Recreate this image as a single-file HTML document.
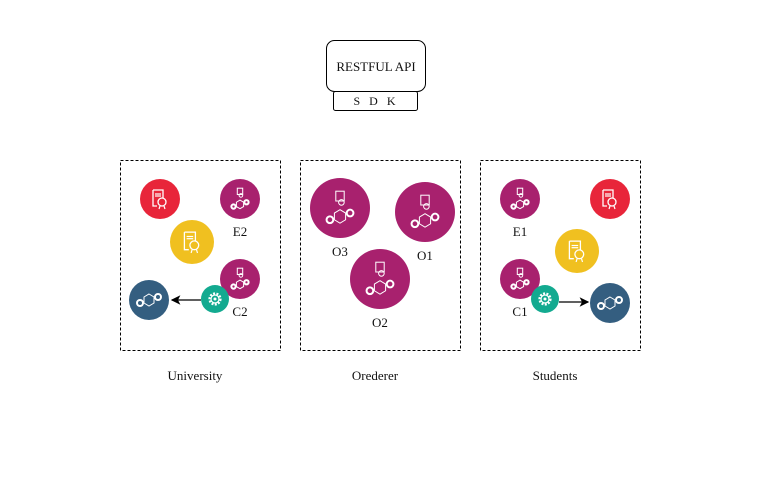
<!DOCTYPE html>
<html><head><meta charset="utf-8"><style>
html,body{margin:0;padding:0;background:#fff;}
svg{display:block;}
text{font-family:"Liberation Serif",serif;fill:#111;}
</style></head><body>
<svg id="d" width="771" height="481" viewBox="0 0 771 481" xmlns="http://www.w3.org/2000/svg">
<defs><marker id="ah" markerWidth="8" markerHeight="8" refX="7" refY="4" orient="auto"><path d="M0,0 L8,4 L0,8 L2,4 z" fill="#000"/></marker></defs>
<g>
<rect x="326.5" y="40.5" width="99" height="51" rx="8" fill="#fff" stroke="#000"/>
<text x="376" y="71" text-anchor="middle" font-size="13">RESTFUL API</text></g>
<g>
<rect x="333.5" y="91.5" width="84" height="19" rx="2" fill="#fff" stroke="#000"/>
<text x="376" y="105" text-anchor="middle" font-size="12" letter-spacing="3">S D K</text></g>
</svg>
<script>
const groupNames=["University","Orederer","Students"];
const groupX=[120,300,480];
const nodeTypes=["cert-red","peer","cert-yellow","peer","app","chain","orderer","orderer","orderer","peer","cert-red","cert-yellow","peer","app","chain"];
const nodeLabels=["","E2","","C2","","","O3","O1","O2","E1","","","C1","",""];
const nodeCX=[160,240,192,240,215,149,340,425,380,520,610,577,520,545,610];
const nodeCY=[199,199,242,279,299,300,208,212,279,199,199,251,279,299,303];
const arrowFrom=[[201,300],[559,302]];
const arrowTo=[[172,300],[588,302]];
const svg=document.getElementById('d');
const NS="http://www.w3.org/2000/svg";
function mk(t,a,p){const e=document.createElementNS(NS,t);for(const k in a)e.setAttribute(k,a[k]);(p||svg).appendChild(e);return e;}
const colors={"cert-red":"#e8253a","peer":"#a8216e","cert-yellow":"#f0c020","app":"#13aa90","chain":"#345e80","orderer":"#a8216e"};
const radii={"cert-red":20,"peer":20,"cert-yellow":22,"app":14,"chain":20,"orderer":30};
groupNames.forEach((n,i)=>{
 const g=mk('g',{});
 
 
 mk('rect',{x:groupX[i]+0.5,y:160.5,width:160,height:190,fill:'none',stroke:'#000','stroke-dasharray':'3,2'},g);
 const t=mk('text',{x:groupX[i]+75,y:380,'text-anchor':'middle','font-size':'13'},g);t.textContent=n;
 
 
});
const W='#fff';
function certIcon(g,cx,cy,s){
 mk('path',{d:`M${cx-6*s},${cy-9*s} h${10*s} v${8*s} M${cx-2*s},${cy+7*s} h${-4*s} v${-16*s}`,fill:'none',stroke:W,'stroke-width':1.3},g);
 mk('line',{x1:cx-4*s,y1:cy-5*s,x2:cx+2*s,y2:cy-5*s,stroke:W,'stroke-width':1.2},g);
 mk('line',{x1:cx-4*s,y1:cy-3*s,x2:cx+2*s,y2:cy-3*s,stroke:W,'stroke-width':1.2},g);
 mk('circle',{cx:cx+3*s,cy:cy+3*s,r:4*s,fill:'none',stroke:W,'stroke-width':1.3},g);
 mk('path',{d:`M${cx+1*s},${cy+7*s} l-1,${3*s} M${cx+5*s},${cy+7*s} l1,${3*s}`,stroke:W,'stroke-width':1.2},g);
}
function chainIcon(g,cx,cy,s){
 mk('circle',{cx:cx-9*s,cy:cy+3*s,r:3*s,fill:'none',stroke:W,'stroke-width':2},g);
 mk('circle',{cx:cx+9*s,cy:cy-3*s,r:3*s,fill:'none',stroke:W,'stroke-width':2},g);
 mk('path',{d:`M${cx},${cy-6*s} l${5*s},${3*s} v${6*s} l${-5*s},${3*s} l${-5*s},${-3*s} v${-6*s} z`,fill:'none',stroke:W,'stroke-width':1},g);
}
function peerIcon(g,cx,cy,s){
 mk('rect',{x:cx-3*s,y:cy-12*s,width:6*s,height:7*s,fill:'none',stroke:W,'stroke-width':1},g);
 mk('circle',{cx:cx+1*s,cy:cy-4*s,r:2*s,fill:'none',stroke:W,'stroke-width':1},g);
 chainIcon(g,cx,cy+6*s,s*0.8);
}
function gearIcon(g,cx,cy){
 mk('circle',{cx:cx,cy:cy,r:5.5,fill:'none',stroke:W,'stroke-width':2.2,'stroke-dasharray':'2,1.4'},g);
 mk('circle',{cx:cx,cy:cy,r:4,fill:'none',stroke:W,'stroke-width':1.2},g);
 mk('circle',{cx:cx,cy:cy,r:1.5,fill:W},g);
}
nodeTypes.forEach((t,i)=>{
 const g=mk('g',{});
 
 
 const r=radii[t],cx=nodeCX[i],cy=nodeCY[i];
 mk('circle',{cx:cx,cy:cy,r:r,fill:colors[t]},g);
 if(t.startsWith('cert'))certIcon(g,cx-1,cy,r/20);
 else if(t==='peer')peerIcon(g,cx,cy,0.9);
 else if(t==='orderer')peerIcon(g,cx,cy,1.4);
 else if(t==='chain')chainIcon(g,cx,cy,1);
 else gearIcon(g,cx,cy);
 if(nodeLabels[i]){
  const lt=mk('text',{x:cx,y:cy+r+(t==='orderer'?18:17),'text-anchor':'middle','font-size':'13'},g);
  lt.textContent=nodeLabels[i];
 }
});
arrowFrom.forEach((f,i)=>{
 const l=mk('line',{x1:f[0],y1:f[1],x2:arrowTo[i][0],y2:arrowTo[i][1],stroke:'#000','stroke-width':1.2,'marker-end':'url(#ah)'});
 
 
});
</script>
</body></html>
